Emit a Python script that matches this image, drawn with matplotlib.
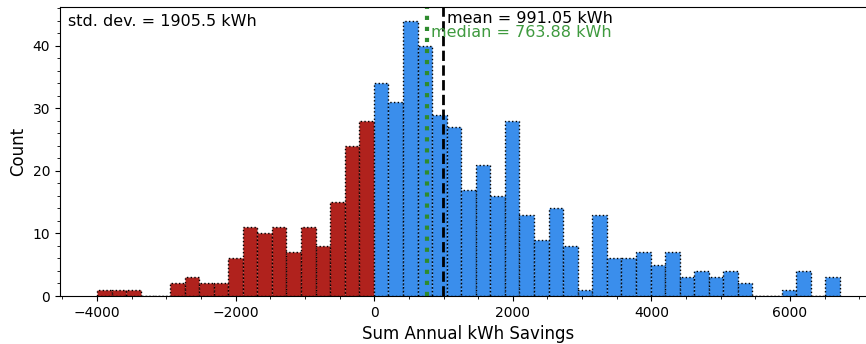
import numpy as np
import matplotlib.pyplot as plt
from matplotlib.ticker import AutoMinorLocator

# histogram of summed annual savings per site (kWh)
bin_lo = -4000
bin_hi = 6720
neg_counts = [1, 1, 1, 0, 0, 2, 3, 2, 2, 6, 11, 10, 11, 7, 11, 8, 15, 24, 28]
pos_counts = [34, 31, 44, 40, 29, 27, 17, 21, 16, 28, 13, 9, 14, 8, 1, 13, 6,
              6, 7, 5, 7, 3, 4, 3, 4, 2, 0, 0, 1, 4, 0, 3]
mean_kwh = 991.05
median_kwh = 763.88
std_kwh = 1905.5

counts = np.array(neg_counts + pos_counts)
edges = np.linspace(bin_lo, bin_hi, len(counts) + 1)
centers = 0.5 * (edges[:-1] + edges[1:])

fig = plt.figure(figsize=(8.66, 3.44), dpi=100)
ax = fig.add_axes([60 / 866, 48 / 344, 817 / 866, 289 / 344])

n, b, patches = ax.hist(centers, bins=edges, weights=counts,
                        edgecolor="black", linestyle=":", linewidth=1.0)
for c, p in zip(centers, patches):
    p.set_facecolor("#b0221d" if c < 0 else "#3a8eec")

ax.axvline(mean_kwh, color="black", linestyle="--", linewidth=2)
ax.axvline(median_kwh, color="#2e8b2e", linestyle=":", linewidth=3)

ax.text(0.01, 0.975, f"std. dev. = {std_kwh} kWh", transform=ax.transAxes,
        fontsize=11.5, va="top", ha="left")
ax.text(mean_kwh + 60, 45.5, f"mean = {mean_kwh} kWh", fontsize=11.5,
        va="top", ha="left")
ax.text(median_kwh + 60, 43.3, f"median = {median_kwh} kWh", fontsize=11.5,
        va="top", ha="left", color="#3f9a3f")

ax.set_xlabel("Sum Annual kWh Savings", fontsize=12)
ax.set_ylabel("Count", fontsize=12)
ax.set_xticks([-4000, -2000, 0, 2000, 4000, 6000])
ax.xaxis.set_minor_locator(AutoMinorLocator(4))
ax.yaxis.set_minor_locator(AutoMinorLocator(5))
ax.tick_params(labelsize=10)

fig.savefig("out.png", dpi=100)
